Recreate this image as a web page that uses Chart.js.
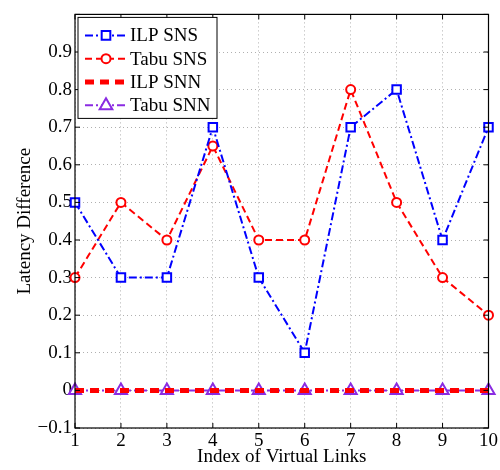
<!DOCTYPE html>
<html>
<head>
<meta charset="utf-8">
<script src="https://cdn.jsdelivr.net/npm/chart.js@4"></script>
<style>
  html, body { margin:0; padding:0; background:#fff; }
  #wrap { width:500px; height:470px; }
</style>
</head>
<body>
<div id="wrap"><canvas id="chart" width="500" height="470"></canvas></div>
<script>
const links    = ["1","2","3","4","5","6","7","8","9","10"];
const ilpSNS   = [0.5, 0.3, 0.3, 0.7, 0.3, 0.1, 0.7, 0.8, 0.4, 0.7];
const tabuSNS  = [0.3, 0.5, 0.4, 0.65, 0.4, 0.4, 0.8, 0.5, 0.3, 0.2];
const ilpSNN   = [0, 0, 0, 0, 0, 0, 0, 0, 0, 0];
const tabuSNN  = [0, 0, 0, 0, 0, 0, 0, 0, 0, 0];

const FONT = "'Liberation Serif', 'Times New Roman', serif";
const PURPLE = "#8a2be2";

// frame, inward ticks and legend box in the upper left
const framePlugin = {
  id: "frame",
  afterDraw(chart) {
    const c = chart.ctx, a = chart.chartArea;
    const xs = chart.scales.x, ys = chart.scales.y;
    c.save();
    c.strokeStyle = "#000";
    c.lineWidth = 1.2;
    c.setLineDash([]);
    c.strokeRect(a.left, a.top, a.right - a.left, a.bottom - a.top);
    c.lineWidth = 1;
    c.beginPath();
    xs.ticks.forEach((t, i) => {
      const px = xs.getPixelForTick(i);
      c.moveTo(px, a.bottom); c.lineTo(px, a.bottom - 5);
      c.moveTo(px, a.top);    c.lineTo(px, a.top + 5);
    });
    ys.ticks.forEach((t, i) => {
      const py = ys.getPixelForTick(i);
      c.moveTo(a.left, py);  c.lineTo(a.left + 5, py);
      c.moveTo(a.right, py); c.lineTo(a.right - 5, py);
    });
    c.stroke();

    // legend
    const bx = a.left + 3, by = a.top + 3, bw = 139, bh = 101;
    c.fillStyle = "#fff";
    c.fillRect(bx, by, bw, bh);
    c.strokeStyle = "#000";
    c.lineWidth = 1;
    c.strokeRect(bx, by, bw, bh);
    c.font = "19px " + FONT;
    c.textBaseline = "middle";
    chart.data.datasets.forEach((ds, i) => {
      const y = by + 18 + i * 23.3;
      const x0 = bx + 7, x1 = bx + 49, xm = (x0 + x1) / 2;
      c.strokeStyle = ds.borderColor;
      c.lineWidth = ds.borderWidth;
      c.setLineDash(ds.borderDash || []);
      c.beginPath(); c.moveTo(x0, y); c.lineTo(x1, y); c.stroke();
      c.setLineDash([]);
      if (ds.pointRadius > 0) {
        c.lineWidth = ds.pointBorderWidth;
        c.strokeStyle = ds.pointBorderColor;
        c.fillStyle = "#fff";
        const r = ds.pointRadius;
        c.beginPath();
        if (ds.pointStyle === "rect") {
          c.rect(xm - r * 0.72, y - r * 0.72, r * 1.44, r * 1.44);
        } else if (ds.pointStyle === "circle") {
          c.arc(xm, y, r, 0, Math.PI * 2);
        } else {
          c.moveTo(xm, y - r); c.lineTo(xm + r * 0.9, y + r * 0.55); c.lineTo(xm - r * 0.9, y + r * 0.55); c.closePath();
        }
        c.fill(); c.stroke();
      }
      c.fillStyle = "#000";
      c.fillText(ds.label, x1 + 3, y + 1);
    });
    c.restore();
  }
};

new Chart(document.getElementById("chart"), {
  type: "line",
  data: {
    labels: links,
    datasets: [
      { label: "ILP SNS", data: ilpSNS, borderColor: "#0000ff", borderWidth: 2,
        borderDash: [8, 3, 2, 3], pointStyle: "rect", pointRadius: 6,
        pointBorderColor: "#0000ff", pointBackgroundColor: "#fff", pointBorderWidth: 2, tension: 0, clip: false },
      { label: "Tabu SNS", data: tabuSNS, borderColor: "#ff0000", borderWidth: 2,
        borderDash: [7, 4], pointStyle: "circle", pointRadius: 4.5,
        pointBorderColor: "#ff0000", pointBackgroundColor: "#fff", pointBorderWidth: 2, tension: 0, clip: false },
      { label: "ILP SNN", data: ilpSNN, borderColor: "#ff0000", borderWidth: 5,
        borderDash: [9, 6], pointRadius: 0, pointBorderWidth: 0, tension: 0, clip: false },
      { label: "Tabu SNN", data: tabuSNN, borderColor: PURPLE, borderWidth: 2,
        borderDash: [8, 3, 2, 3], pointStyle: "triangle", pointRadius: 7,
        pointBorderColor: PURPLE, pointBackgroundColor: "#fff", pointBorderWidth: 2, tension: 0, clip: false }
    ]
  },
  options: {
    responsive: false,
    animation: false,
    layout: { padding: { top: 11, right: 10, left: 0, bottom: 0 } },
    plugins: { legend: { display: false }, tooltip: { enabled: false } },
    scales: {
      x: {
        offset: false,
        grid: { color: "#b0b0b0", drawTicks: false, lineWidth: 1 },
        border: { display: false, dash: [1, 3] },
        ticks: { color: "#000", font: { family: FONT, size: 19 }, padding: 2, maxRotation: 0 },
        title: { display: true, text: "Index of Virtual Links", color: "#000",
                 font: { family: FONT, size: 19 }, padding: { top: -2, bottom: 2 } },
        afterFit(s) { s.height = 42; }
      },
      y: {
        min: -0.1, max: 1.0,
        grid: { color: "#b0b0b0", drawTicks: false, lineWidth: 1 },
        border: { display: false, dash: [1, 3] },
        ticks: {
          stepSize: 0.1, color: "#000", font: { family: FONT, size: 19 }, padding: 3,
          callback(v) {
            const r = Math.round(v * 10) / 10;
            if (r >= 1) return "";
            if (r === 0) return "0";
            return r < 0 ? "\u2212" + Math.abs(r).toFixed(1) : r.toFixed(1);
          }
        },
        title: { display: true, text: "Latency Difference", color: "#000",
                 font: { family: FONT, size: 19 }, padding: { top: 14, bottom: 6 } },
        afterFit(s) { s.width = 75; }
      }
    }
  },
  plugins: [framePlugin]
});
</script>
</body>
</html>
